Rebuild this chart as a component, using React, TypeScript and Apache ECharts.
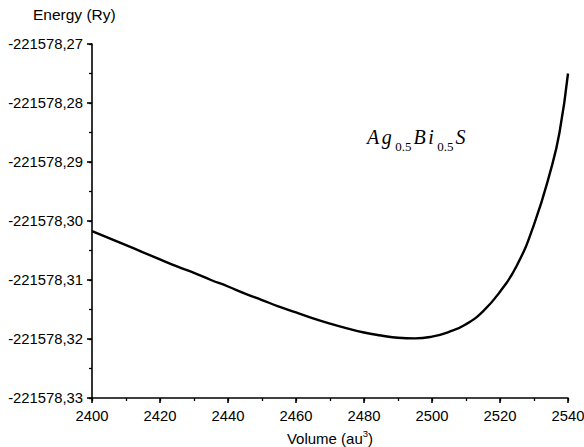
import React, { useEffect, useRef } from "react";
import * as echarts from "echarts";

// Total energy is stored as an offset from this base (Ry) to keep float precision.
const E_BASE = -221578;

const volume = [
  2400, 2405, 2410, 2415, 2420, 2425, 2430, 2435, 2440, 2445, 2450, 2455,
  2460, 2465, 2470, 2475, 2480, 2485, 2490, 2495, 2500, 2505, 2510, 2515,
  2520, 2525, 2530, 2535, 2537.5, 2540,
];
const energyOffset = [
  -0.3017, -0.3029, -0.3041, -0.3053, -0.3065, -0.3077, -0.3088, -0.31,
  -0.3111, -0.3123, -0.3134, -0.3145, -0.3155, -0.3165, -0.3174, -0.3182,
  -0.3189, -0.3194, -0.3198, -0.3199, -0.3196, -0.3188, -0.3175, -0.3153,
  -0.312, -0.3075, -0.3006, -0.2912, -0.285, -0.275,
];

const xTicks = { min: 2400, max: 2540, interval: 20, minor: 10 };
const yTicks = { min: -0.33, max: -0.27, interval: 0.01, minor: 0.005 };

const FONT = "'Liberation Sans', Arial, sans-serif";
const SERIF = "'Liberation Serif', 'Times New Roman', serif";
const BLACK = "#000";

const tickLine = { color: BLACK, width: 1.6 };

export default function App() {
  const ref = useRef<HTMLDivElement>(null);

  useEffect(() => {
    if (!ref.current) return;
    const chart = echarts.init(ref.current, null, { renderer: "svg" });
    const data = volume.map((v, i) => [v, energyOffset[i]]);

    // A second, label-less axis per direction carries the short minor ticks.
    const minorAxis = (min: number, max: number, interval: number, position: string) => ({
      type: "value",
      position,
      min,
      max,
      interval,
      axisLine: { show: false, onZero: false },
      axisTick: { show: true, inside: false, length: 3, lineStyle: { color: BLACK, width: 1.3 } },
      axisLabel: { show: false },
      splitLine: { show: false },
    });

    chart.setOption({
      animation: false,
      backgroundColor: "#ffffff",
      grid: {
        left: 92,
        right: 16,
        top: 44,
        bottom: 49,
        containLabel: false,
        outerBoundsMode: "none",
      },
      xAxis: [
        {
          type: "value",
          position: "bottom",
          min: xTicks.min,
          max: xTicks.max,
          interval: xTicks.interval,
          name: "{t|Volume (au}{s|3}{t|)}",
          nameLocation: "middle",
          nameGap: 30,
          nameTextStyle: {
            rich: {
              t: { fontFamily: FONT, fontSize: 15, color: BLACK, verticalAlign: "bottom", lineHeight: 18 },
              s: { fontFamily: FONT, fontSize: 9.5, color: BLACK, verticalAlign: "top", lineHeight: 18 },
            },
          },
          axisLine: { show: true, onZero: false, lineStyle: tickLine },
          axisTick: { show: true, inside: false, length: 5, lineStyle: tickLine },
          splitLine: { show: false },
          axisLabel: {
            margin: 10,
            fontFamily: FONT,
            fontSize: 14.8,
            color: BLACK,
            showMinLabel: true,
            showMaxLabel: true,
            formatter: (v: number) => String(v),
          },
        },
        minorAxis(xTicks.min, xTicks.max, xTicks.minor, "bottom"),
      ],
      yAxis: [
        {
          type: "value",
          position: "left",
          min: yTicks.min,
          max: yTicks.max,
          interval: yTicks.interval,
          axisLine: { show: true, onZero: false, lineStyle: tickLine },
          axisTick: { show: true, inside: false, length: 5, lineStyle: tickLine },
          splitLine: { show: false },
          axisLabel: {
            margin: 9,
            fontFamily: FONT,
            fontSize: 14.8,
            color: BLACK,
            formatter: (v: number) => (E_BASE + v).toFixed(2).replace(".", ","),
          },
        },
        minorAxis(yTicks.min, yTicks.max, yTicks.minor, "left"),
      ],
      graphic: [
        {
          type: "text",
          left: 33,
          top: 6,
          style: { text: "Energy (Ry)", font: `15.5px ${FONT}`, fill: BLACK },
        },
        {
          type: "text",
          left: 367,
          top: 127,
          style: {
            text: "{m|A}{m|g}{s|0.5}{m|B}{m|i}{s|0.5}{m|S}",
            rich: {
              m: {
                fontFamily: SERIF,
                fontStyle: "italic",
                fontSize: 20,
                fill: BLACK,
                lineHeight: 26,
                verticalAlign: "bottom",
                padding: [0, 2.5, 6, 0],
              },
              s: {
                fontFamily: SERIF,
                fontSize: 13,
                fill: BLACK,
                lineHeight: 26,
                verticalAlign: "bottom",
                padding: [0, 2, 0, 1],
              },
            },
          },
        },
      ],
      series: [
        {
          type: "line",
          xAxisIndex: 0,
          yAxisIndex: 0,
          data,
          smooth: 0.5,
          showSymbol: false,
          lineStyle: { color: BLACK, width: 2.4 },
        },
      ],
    });

    return () => chart.dispose();
  }, []);

  return (
    <div
      ref={ref}
      style={{ position: "fixed", left: 0, top: 0, width: 584, height: 447 }}
    />
  );
}
